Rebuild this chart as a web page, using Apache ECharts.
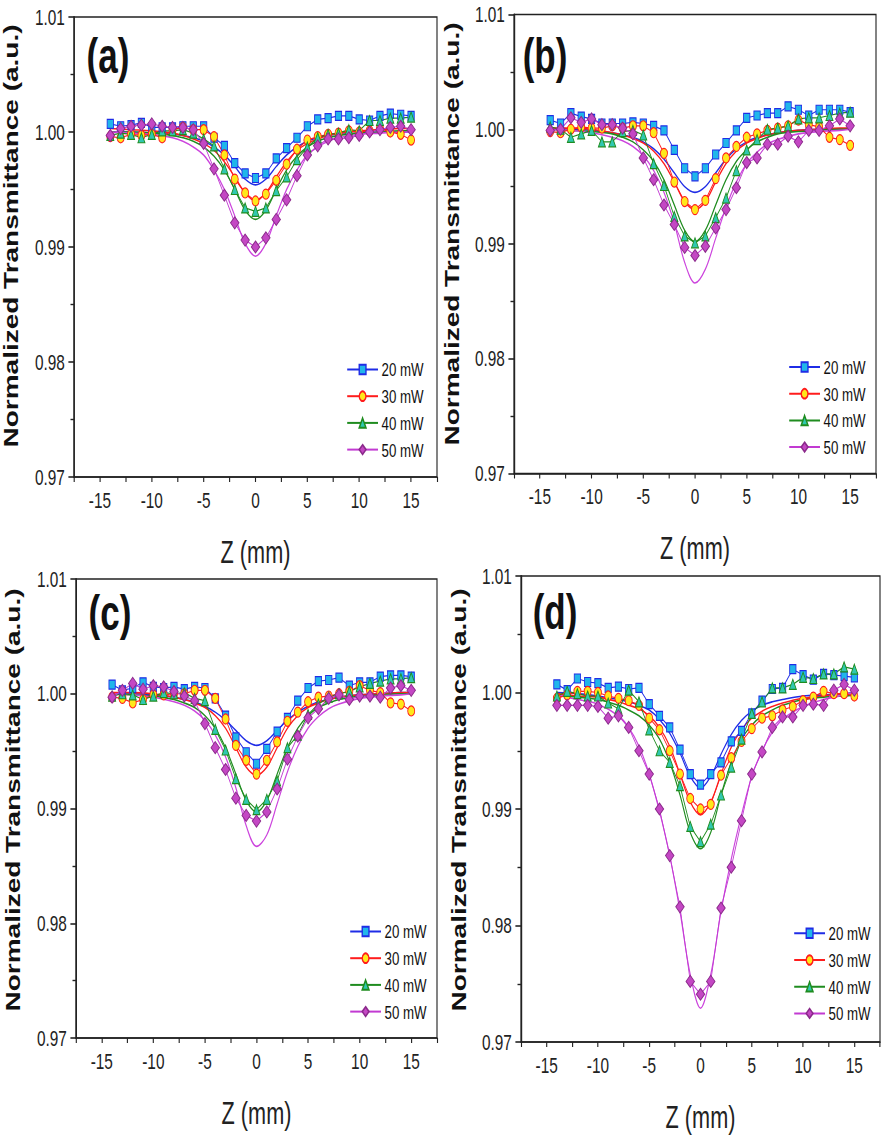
<!DOCTYPE html>
<html>
<head>
<meta charset="utf-8">
<script src="https://cdn.jsdelivr.net/npm/echarts@6/dist/echarts.min.js"></script>
<style>
  html, body { margin: 0; padding: 0; background: #fff; overflow: hidden; }
  /* the figure is horizontally squeezed, so draw wide and scale x */
  #chart { position: absolute; left: 0; top: 0; width: 1265.7px; height: 1142px;
           transform: scaleX(0.7); transform-origin: 0 0; }
</style>
</head>
<body>
<div id="chart"></div>
<script>
// z positions of the measured points (mm)
const zPos = [-14,-13,-12,-11,-10,-9,-8,-7,-6,-5,-4,-3,-2,-1,0,1,2,3,4,5,6,7,8,9,10,11,12,13,14,15];
// z positions where the fitted curves were read
const zFit = [-14,-12,-10,-8,-7,-6,-5,-4,-3,-2,-1,0,1,2,3,4,5,6,7,8,10,12,14,15];

const powers = ['20 mW', '30 mW', '40 mW', '50 mW'];
const yTicks = [0.97, 0.98, 0.99, 1.00, 1.01];
const xTicks = [-15, -10, -5, 0, 5, 10, 15];

// ---- panel (a)
const a20 = [1.0007,1.0005,1.0006,1.0008,1.0004,1.0004,1.0004,1.0005,1.0005,1.0005,0.9995,0.9988,0.9973,0.9964,0.9960,0.9964,0.9977,0.9986,0.9995,1.0005,1.0011,1.0012,1.0014,1.0014,1.0011,1.0010,1.0014,1.0016,1.0015,1.0014];
const a30 = [0.9996,0.9995,0.9998,0.9997,0.9998,0.9995,1.0002,1.0004,1.0002,1.0002,0.9996,0.9980,0.9959,0.9947,0.9940,0.9946,0.9958,0.9972,0.9985,0.9993,0.9996,0.9998,0.9999,1.0001,1.0000,1.0001,1.0003,1.0000,0.9998,0.9993];
const a40 = [0.9997,0.9999,0.9998,0.9995,0.9998,1.0001,1.0001,1.0002,0.9999,0.9994,0.9988,0.9968,0.9950,0.9934,0.9931,0.9934,0.9949,0.9961,0.9976,0.9987,0.9995,0.9998,0.9999,1.0002,1.0001,1.0010,1.0010,1.0012,1.0012,1.0013];
const a50 = [0.9997,1.0003,1.0005,1.0006,1.0007,1.0005,1.0004,1.0004,1.0002,0.9990,0.9968,0.9945,0.9921,0.9906,0.9900,0.9908,0.9924,0.9941,0.9962,0.9980,0.9988,0.9994,0.9994,0.9995,0.9997,1.0000,1.0002,1.0004,1.0005,1.0002];
const aFit20 = [1.0000,1.0000,0.9999,0.9998,0.9997,0.9995,0.9992,0.9987,0.9980,0.9970,0.9959,0.9954,0.9959,0.9970,0.9980,0.9987,0.9992,0.9995,0.9997,0.9998,0.9999,1.0000,1.0000,1.0000];
const aFit30 = [1.0003,1.0002,1.0001,0.9999,0.9997,0.9994,0.9990,0.9984,0.9974,0.9961,0.9947,0.9940,0.9947,0.9961,0.9974,0.9984,0.9990,0.9994,0.9997,0.9999,1.0001,1.0002,1.0003,1.0003];
const aFit40 = [1.0000,1.0000,0.9999,0.9997,0.9995,0.9992,0.9987,0.9979,0.9967,0.9950,0.9932,0.9924,0.9932,0.9950,0.9967,0.9979,0.9987,0.9992,0.9995,0.9997,0.9999,1.0000,1.0001,1.0001];
const aFit50 = [1.0000,0.9999,0.9998,0.9995,0.9992,0.9987,0.9980,0.9967,0.9950,0.9927,0.9903,0.9892,0.9903,0.9927,0.9950,0.9967,0.9980,0.9987,0.9992,0.9995,0.9998,0.9999,1.0000,1.0000];

// ---- panel (b)
const b20 = [1.0008,1.0005,1.0014,1.0011,1.0009,1.0005,1.0005,1.0005,1.0006,1.0005,1.0003,0.9999,0.9982,0.9966,0.9959,0.9966,0.9978,0.9988,0.9999,1.0010,1.0012,1.0014,1.0014,1.0020,1.0017,1.0012,1.0017,1.0017,1.0017,1.0015];
const b30 = [0.9998,0.9997,1.0000,1.0002,1.0001,1.0001,1.0003,1.0001,1.0003,1.0003,0.9997,0.9979,0.9954,0.9937,0.9930,0.9938,0.9957,0.9975,0.9985,0.9993,0.9996,0.9999,1.0001,1.0003,1.0008,1.0004,1.0002,0.9993,0.9991,0.9986];
const b40 = [1.0002,1.0000,0.9993,0.9996,0.9999,0.9989,0.9989,0.9998,0.9999,0.9995,0.9970,0.9951,0.9924,0.9907,0.9901,0.9907,0.9923,0.9940,0.9964,0.9982,0.9991,1.0000,1.0001,1.0003,1.0009,1.0010,1.0010,1.0012,1.0014,1.0015];
const b50 = [0.9999,1.0000,1.0010,1.0006,1.0009,1.0004,1.0004,1.0001,0.9996,0.9975,0.9956,0.9934,0.9917,0.9897,0.9890,0.9898,0.9914,0.9930,0.9949,0.9971,0.9975,0.9987,0.9987,0.9994,0.9989,0.9999,0.9999,1.0003,1.0009,1.0003];
const bFit20 = [1.0000,1.0000,0.9999,0.9997,0.9995,0.9993,0.9989,0.9983,0.9974,0.9962,0.9950,0.9945,0.9950,0.9962,0.9974,0.9983,0.9989,0.9993,0.9995,0.9997,0.9999,1.0000,1.0000,1.0000];
const bFit30 = [1.0001,1.0001,1.0000,0.9997,0.9995,0.9992,0.9988,0.9981,0.9970,0.9954,0.9937,0.9930,0.9937,0.9954,0.9970,0.9981,0.9988,0.9992,0.9995,0.9997,0.9999,1.0000,1.0001,1.0001];
const bFit40 = [1.0000,0.9999,0.9998,0.9996,0.9993,0.9989,0.9982,0.9972,0.9956,0.9934,0.9912,0.9902,0.9912,0.9934,0.9956,0.9972,0.9982,0.9989,0.9993,0.9996,0.9998,0.9999,1.0000,1.0000];
const bFit50 = [1.0000,0.9999,0.9997,0.9993,0.9990,0.9985,0.9977,0.9964,0.9945,0.9918,0.9884,0.9866,0.9878,0.9905,0.9932,0.9954,0.9970,0.9980,0.9987,0.9991,0.9996,0.9998,0.9999,1.0000];

// ---- panel (c)
const c20 = [1.0008,1.0003,1.0005,1.0010,1.0006,1.0005,1.0006,1.0004,1.0006,1.0005,0.9996,0.9981,0.9962,0.9949,0.9939,0.9952,0.9967,0.9979,0.9994,1.0005,1.0011,1.0012,1.0014,1.0007,1.0010,1.0010,1.0015,1.0016,1.0016,1.0015];
const c30 = [0.9997,0.9996,0.9992,0.9995,0.9999,0.9999,1.0000,1.0000,1.0003,1.0003,0.9996,0.9978,0.9955,0.9942,0.9930,0.9942,0.9958,0.9976,0.9984,0.9993,0.9997,0.9998,1.0000,1.0002,1.0007,1.0003,1.0001,0.9992,0.9991,0.9985];
const c40 = [0.9998,1.0000,0.9999,0.9995,0.9998,1.0001,1.0000,1.0001,0.9996,0.9994,0.9969,0.9951,0.9926,0.9908,0.9899,0.9908,0.9924,0.9953,0.9964,0.9982,0.9991,0.9997,1.0000,1.0002,1.0006,1.0009,1.0011,1.0013,1.0013,1.0014];
const c50 = [0.9997,1.0003,1.0009,1.0004,1.0007,1.0006,1.0002,0.9998,0.9994,0.9974,0.9953,0.9934,0.9909,0.9894,0.9889,0.9897,0.9917,0.9943,0.9963,0.9979,0.9987,0.9996,0.9999,0.9995,0.9998,0.9998,0.9997,1.0005,1.0007,1.0003];
const cFit20 = [1.0000,1.0000,0.9999,0.9997,0.9995,0.9993,0.9989,0.9984,0.9977,0.9968,0.9959,0.9955,0.9959,0.9968,0.9977,0.9984,0.9989,0.9993,0.9995,0.9997,0.9999,1.0000,1.0001,1.0001];
const cFit30 = [1.0001,1.0001,1.0000,0.9997,0.9995,0.9992,0.9988,0.9981,0.9970,0.9953,0.9936,0.9929,0.9936,0.9953,0.9970,0.9981,0.9988,0.9992,0.9995,0.9997,0.9999,1.0000,1.0001,1.0001];
const cFit40 = [1.0000,0.9999,0.9998,0.9995,0.9992,0.9988,0.9981,0.9970,0.9953,0.9930,0.9907,0.9897,0.9907,0.9930,0.9953,0.9970,0.9981,0.9988,0.9992,0.9995,0.9998,0.9999,1.0000,1.0000];
const cFit50 = [1.0000,0.9999,0.9997,0.9993,0.9990,0.9985,0.9977,0.9964,0.9945,0.9918,0.9885,0.9867,0.9877,0.9904,0.9932,0.9954,0.9970,0.9980,0.9987,0.9991,0.9996,0.9998,0.9999,1.0000];

// ---- panel (d)
const d20 = [1.0007,1.0002,1.0012,1.0009,1.0008,1.0004,1.0005,1.0003,1.0004,0.9990,0.9980,0.9970,0.9951,0.9930,0.9921,0.9930,0.9940,0.9958,0.9967,0.9982,0.9993,1.0003,1.0004,1.0020,1.0015,1.0011,1.0016,1.0015,1.0014,1.0013];
const d30 = [0.9995,0.9998,1.0001,1.0001,1.0000,0.9997,0.9995,0.9993,0.9989,0.9978,0.9968,0.9950,0.9930,0.9909,0.9900,0.9904,0.9929,0.9944,0.9958,0.9969,0.9978,0.9980,0.9985,0.9988,0.9993,0.9996,1.0001,0.9999,0.9999,0.9997];
const d40 = [0.9997,1.0001,0.9999,0.9997,0.9997,0.9991,0.9986,1.0002,0.9992,0.9968,0.9950,0.9940,0.9920,0.9885,0.9872,0.9887,0.9912,0.9936,0.9960,0.9982,0.9992,1.0004,1.0004,1.0007,1.0013,1.0012,1.0016,1.0016,1.0022,1.0020];
const d50 = [0.9989,0.9989,0.9989,0.9989,0.9988,0.9978,0.9980,0.9970,0.9950,0.9930,0.9900,0.9860,0.9816,0.9752,0.9741,0.9752,0.9815,0.9850,0.9890,0.9930,0.9949,0.9970,0.9979,0.9979,0.9989,0.9990,0.9989,1.0002,1.0007,1.0002];
const dFit20 = [1.0000,0.9999,0.9997,0.9994,0.9992,0.9989,0.9985,0.9977,0.9965,0.9948,0.9928,0.9918,0.9928,0.9947,0.9964,0.9976,0.9984,0.9989,0.9992,0.9994,0.9997,0.9998,0.9999,1.0000];
const dFit30 = [0.9999,0.9997,0.9996,0.9992,0.9989,0.9986,0.9980,0.9970,0.9954,0.9930,0.9906,0.9895,0.9906,0.9930,0.9953,0.9968,0.9978,0.9984,0.9988,0.9991,0.9995,0.9997,0.9999,0.9999];
const dFit40 = [0.9997,0.9996,0.9994,0.9989,0.9985,0.9980,0.9972,0.9960,0.9940,0.9912,0.9880,0.9866,0.9880,0.9912,0.9940,0.9960,0.9972,0.9980,0.9985,0.9989,0.9994,0.9996,0.9997,0.9998];
const dFit50 = [0.9998,0.9994,0.9990,0.9980,0.9970,0.9954,0.9930,0.9898,0.9860,0.9812,0.9758,0.9729,0.9758,0.9812,0.9857,0.9895,0.9928,0.9950,0.9966,0.9977,0.9988,0.9994,0.9998,1.0000];

// ---- look
const K = 0.7;                    // horizontal squeeze of the figure
const px = v => v / K;            // screen x -> unscaled x
const FONT = "'Liberation Sans', Arial, Helvetica, sans-serif";
const INK = '#222';

const lineColor = ['#1f2ce6', '#ff1c1c', '#1f8c1f', '#c23ad2'];
const fitColor  = ['#1f2ce6', '#ff1c1c', '#1f8c1f', '#cc44dd'];
const markFill  = ['#20b6ea', '#ffe81a', '#30c8b0', '#c447c4'];
const markEdge  = ['#1f2ce6', '#ff1c1c', '#1f8c1f', '#8b2a8b'];
const markShape = ['rect', 'circle', 'triangle', 'diamond'];
const markSize  = [9, 10, 10, 12];

// box of every panel in screen pixels, plus legend / letter / title anchors
const panels = [
  { tag: '(a)', x0: 74,  x1: 437, y0: 17,  y1: 477,  data: [a20, a30, a40, a50], fit: [aFit20, aFit30, aFit40, aFit50],
    legend: [343, 354.5], letter: [108, 56],  title: [11.5, 236] },
  { tag: '(b)', x0: 514, x1: 876, y0: 14.5, y1: 473.5, data: [b20, b30, b40, b50], fit: [bFit20, bFit30, bFit40, bFit50],
    legend: [785, 352],   letter: [545, 56],  title: [452, 234] },
  { tag: '(c)', x0: 76,  x1: 437, y0: 579, y1: 1038, data: [c20, c30, c40, c50], fit: [cFit20, cFit30, cFit40, cFit50],
    legend: [346, 916.5], letter: [110, 613], title: [13.5, 800] },
  { tag: '(d)', x0: 521, x1: 880, y0: 576, y1: 1042, data: [d20, d30, d40, d50], fit: [dFit20, dFit30, dFit40, dFit50],
    legend: [790, 918.3], letter: [555, 612], title: [459, 800] }
];

const grid = [], xAxis = [], yAxis = [], series = [], legend = [], graphic = [];

panels.forEach((p, k) => {
  grid.push({
    left: px(p.x0), top: p.y0, width: px(p.x1 - p.x0), height: p.y1 - p.y0,
    show: true, borderColor: INK, borderWidth: 1.6, backgroundColor: 'transparent'
  });
  xAxis.push({
    gridIndex: k, type: 'value', min: -17.5, max: 17.5, interval: 2.5,
    axisLine: { onZero: false, lineStyle: { color: INK, width: 1.6 } },
    axisTick: { length: 5, lineStyle: { color: INK, width: 1.6 } },
    axisLabel: {
      margin: 12, fontSize: 22, color: INK, fontFamily: FONT,
      formatter: v => (xTicks.indexOf(Math.round(v * 10) / 10) >= 0 ? String(Math.round(v)) : '')
    },
    splitLine: { show: false },
    name: 'Z (mm)', nameLocation: 'middle', nameGap: 60,
    nameTextStyle: { fontSize: 31, color: INK, fontFamily: FONT }
  });
  yAxis.push({
    gridIndex: k, type: 'value', min: 0.97, max: 1.01, interval: 0.01,
    axisLine: { onZero: false, lineStyle: { color: INK, width: 2 } },
    axisTick: { length: 8, lineStyle: { color: INK, width: 1.6 } },
    minorTick: { show: true, splitNumber: 2, length: 5, lineStyle: { color: INK, width: 1.4 } },
    axisLabel: {
      margin: 13, fontSize: 22, color: INK, fontFamily: FONT,
      formatter: v => {
        const t = yTicks.find(q => Math.abs(q - v) < 1e-6);
        return t === undefined ? '' : t.toFixed(2);
      }
    },
    splitLine: { show: false }, minorSplitLine: { show: false }
  });

  // fitted curves first, measured points drawn over them
  p.fit.forEach((vals, i) => {
    series.push({
      name: powers[i] + ' fit', type: 'line', xAxisIndex: k, yAxisIndex: k,
      data: zFit.map((z, j) => [z, vals[j]]),
      smooth: 0.35, symbol: 'none', silent: true, z: 2,
      lineStyle: { color: fitColor[i], width: 1.6 }
    });
  });
  p.data.forEach((vals, i) => {
    series.push({
      name: powers[i], type: 'line', xAxisIndex: k, yAxisIndex: k,
      data: zPos.map((z, j) => [z, vals[j]]),
      symbol: markShape[i], symbolSize: markSize[i], z: 3,
      lineStyle: { color: lineColor[i], width: 1.2 },
      itemStyle: { color: markFill[i], borderColor: markEdge[i], borderWidth: 1.2 }
    });
  });

  legend.push({
    data: powers, orient: 'vertical', left: px(p.legend[0]), top: p.legend[1],
    itemWidth: 44, itemHeight: 12, itemGap: 6.7, selectedMode: false,
    textStyle: { fontSize: 19, lineHeight: 20, color: '#111', fontFamily: FONT }
  });

  graphic.push({
    type: 'text', x: px(p.letter[0]), y: p.letter[1],
    style: { text: p.tag, fontSize: 50, fontWeight: 'bold', fontFamily: FONT, fill: '#111',
             align: 'center', verticalAlign: 'middle' }
  });
  graphic.push({
    type: 'text', x: px(p.title[0]), y: p.title[1], rotation: Math.PI / 2,
    style: { text: 'Normalized Transmittance (a.u.)', fontSize: 28, fontWeight: 'bold',
             fontFamily: FONT, fill: '#111', align: 'center', verticalAlign: 'middle' }
  });
});

const chart = echarts.init(document.getElementById('chart'), null, { renderer: 'svg' });
chart.setOption({
  backgroundColor: '#fff',
  animation: false,
  grid, xAxis, yAxis, series, legend, graphic
});
</script>
</body>
</html>
